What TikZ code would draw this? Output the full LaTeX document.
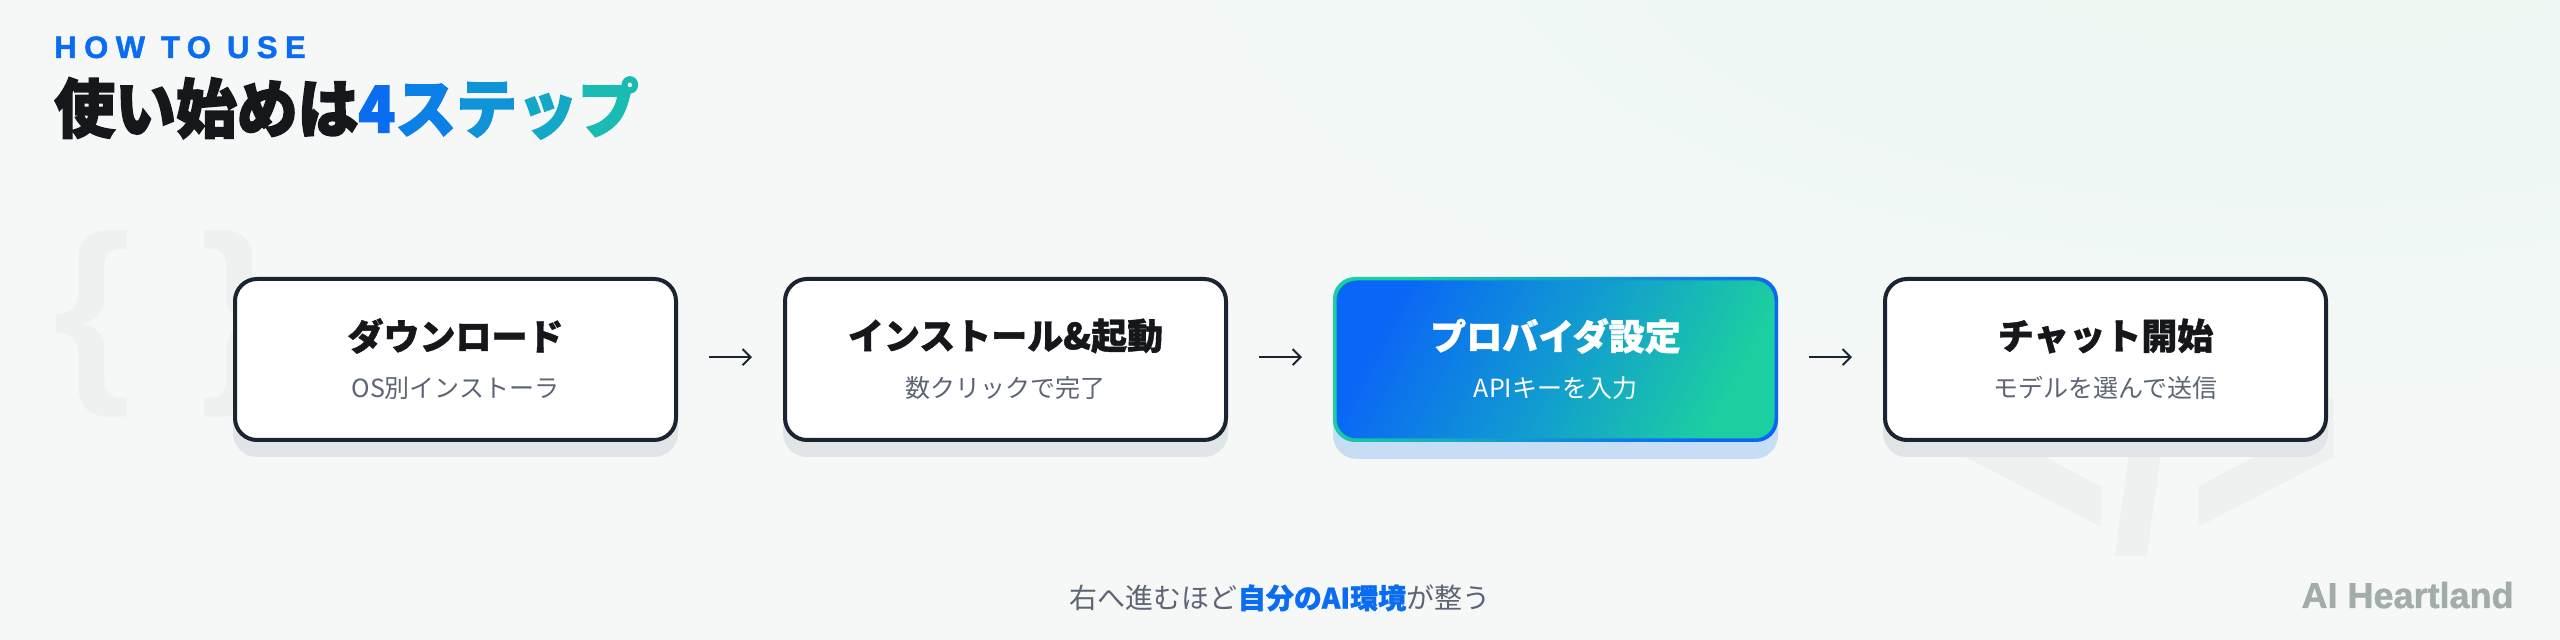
\documentclass[tikz,border=0pt]{standalone}
\usepackage{fontspec}
\setmainfont[BoldFeatures={FakeBold=1.2}]{Noto Sans CJK JP}
\newfontfamily\heavy[BoldFeatures={FakeBold=2.6}]{Noto Sans CJK JP}
\newfontfamily\lat{Liberation Sans}
\newfontfamily\latsp[LetterSpace=24,BoldFeatures={FakeBold=1.5}]{Liberation Sans}
\newfontfamily\brandfont[BoldFeatures={FakeBold=1.2}]{Liberation Sans}
\usetikzlibrary{arrows.meta}
\definecolor{bg}{HTML}{F6F8F8}
\definecolor{mint}{HTML}{EAF7F1}
\definecolor{deco}{HTML}{EFF1F1}
\definecolor{boxline}{HTML}{1B2431}
\definecolor{shadowgray}{HTML}{E1E5E7}
\definecolor{shadowblue}{HTML}{C6DDF5}
\definecolor{titleblack}{HTML}{15171B}
\definecolor{subgray}{HTML}{5D6575}
\definecolor{accentblue}{HTML}{0A6CF0}
\definecolor{gA}{HTML}{0A6CF0}
\definecolor{gB}{HTML}{0B80E6}
\definecolor{gC}{HTML}{0F94D8}
\definecolor{gD}{HTML}{13A7C8}
\definecolor{gE}{HTML}{1ABBB3}
\definecolor{gradblue}{HTML}{0A66F6}
\definecolor{gradmid}{HTML}{119AD2}
\definecolor{gradteal}{HTML}{1CCFA0}
\definecolor{brand}{HTML}{A2ADA9}
\colorlet{glowA}{mint!70!bg}
\colorlet{glowB}{mint!38!bg}
\colorlet{glowC}{mint!14!bg}
\colorlet{glowD}{mint!3!bg}
\pgfdeclareradialshading{mintglow}{\pgfpoint{0bp}{0bp}}{color(0bp)=(mint); color(10bp)=(glowA); color(20bp)=(glowB); color(30bp)=(glowC); color(40bp)=(glowD); color(48bp)=(bg); color(50bp)=(bg)}
\pgfdeclarelayer{bglayer}
\pgfdeclarelayer{shadowlayer}
\pgfsetlayers{bglayer,shadowlayer,main}
\begin{document}
\begin{tikzpicture}[x=0.5pt,y=-0.5pt,
  stepbox/.style={draw=boxline, line width=2pt, fill=white, rounded corners=11pt,
    minimum width=220.5pt, minimum height=80.5pt, inner sep=0pt, outer sep=1pt},
  gradbox/.style={shade, top color=gradblue, bottom color=gradteal, middle color=gradmid,
    shading angle=62, rounded corners=10pt,
    minimum width=219pt, minimum height=79pt, inner sep=0pt, outer sep=1.75pt},
  steptitle/.style={font=\fontsize{18pt}{20pt}\selectfont\bfseries, text=titleblack, inner sep=0pt},
  stepsub/.style={font=\fontsize{12.5pt}{14pt}\selectfont, text=subgray, inner sep=0pt},
  flow/.style={draw=boxline, line width=1pt, -{Straight Barb[length=4pt,width=8pt,line width=1pt]},
    shorten <=15.5pt, shorten >=15.5pt},
  decotext/.style={text=deco, inner sep=0pt}
]
\useasboundingbox (0,0) rectangle (2560,640);
\begin{pgfonlayer}{bglayer}
  \fill[bg] (0,0) rectangle (2560,640);
  \begin{scope}
    \clip (0,0) rectangle (2560,640);
    \shade[shading=mintglow] (2300,-80) ellipse [x radius=1150, y radius=480];
  \end{scope}
  \node[decotext, font=\fontsize{100pt}{100pt}\selectfont\lat\bfseries] (braces) at (166,324) {\{\hspace{34.5pt}\}};
  \node[decotext, anchor=base west, font=\fontsize{135pt}{135pt}\selectfont\lat\bfseries] (codetag) at (1954,550) {\scalebox{1}[1.35]{</>}};
\end{pgfonlayer}

% header
\node[anchor=base west, inner sep=0pt, text=accentblue, font=\fontsize{15.5pt}{16pt}\selectfont\latsp\bfseries] (kicker) at (54,58) {HOW TO USE};
\node[anchor=west, inner sep=0pt, font=\fontsize{32pt}{34pt}\selectfont\heavy\bfseries] (title) at (54,108)
  {\scalebox{0.95}[1]{\textcolor{titleblack}{使い始めは}\textcolor{gA}{4}\textcolor{gB}{ス}\textcolor{gC}{テ}\textcolor{gD}{ッ}\textcolor{gE}{プ}}};

% boxes
\node[stepbox] (b1) at (455.5,359.5) {};
\node[stepbox] (b2) at (1005.5,359.5) {};
\node[gradbox] (b3) at (1555.5,359.5) {};
\node[stepbox] (b4) at (2105.5,359.5) {};

\begin{pgfonlayer}{shadowlayer}
  \foreach \b in {b1,b2,b4}
    \fill[shadowgray, rounded corners=12pt] ([yshift=-7.5pt]\b.south west) rectangle ([yshift=-7.5pt]\b.north east);
  \fill[shadowblue, rounded corners=12pt] ([yshift=-8.5pt]b3.south west) rectangle ([yshift=-8.5pt]b3.north east);
  \shade[top color=gradteal, bottom color=gradblue, middle color=gradmid, shading angle=62, rounded corners=11pt]
    (b3.south west) rectangle (b3.north east);
\end{pgfonlayer}

\node[steptitle] (t1) at (455.5,336) {ダウンロード};
\node[stepsub] (s1) at (455.5,388) {OS別インストーラ};
\node[steptitle] (t2) at (1005.5,336) {インストール\&起動};
\node[stepsub] (s2) at (1005.5,388) {数クリックで完了};
\node[steptitle, text=white] (t3) at (1555.5,336) {プロバイダ設定};
\node[stepsub, text=white] (s3) at (1555.5,388) {APIキーを入力};
\node[steptitle] (t4) at (2105.5,336) {チャット開始};
\node[stepsub] (s4) at (2105.5,388) {モデルを選んで送信};

% arrows
\draw[flow] ([yshift=1.2pt]b1.east) -- ([yshift=1.2pt]b2.west);
\draw[flow] ([yshift=1.2pt]b2.east) -- ([yshift=1.2pt]b3.west);
\draw[flow] ([yshift=1.2pt]b3.east) -- ([yshift=1.2pt]b4.west);

% footer
\node[inner sep=0pt, text=subgray, font=\fontsize{14pt}{16pt}\selectfont] (caption) at (1280,598)
  {右へ進むほど\textcolor{accentblue}{\bfseries 自分のAI環境}が整う};
\node[anchor=base east, inner sep=0pt, text=brand, font=\fontsize{18pt}{18pt}\selectfont\brandfont\bfseries] (brandmark) at (2514,608) {AI Heartland};
\end{tikzpicture}
\end{document}
